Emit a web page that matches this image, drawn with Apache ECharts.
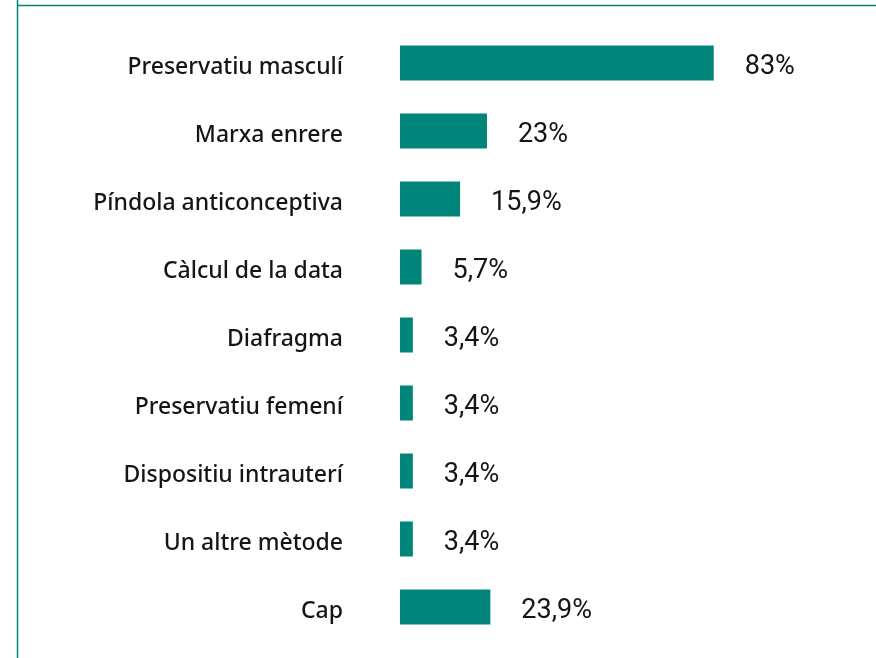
<!DOCTYPE html>
<html>
<head>
<meta charset="utf-8">
<script src="https://cdn.jsdelivr.net/npm/echarts@6/dist/echarts.min.js"></script>
<style>
html,body{margin:0;padding:0;background:#fff;}
#c{width:876px;height:658px;}
</style>
</head>
<body>
<div id="c"></div>
<script>
const categories = ["Preservatiu masculí","Marxa enrere","Píndola anticonceptiva","Càlcul de la data","Diafragma","Preservatiu femení","Dispositiu intrauterí","Un altre mètode","Cap"];
const values = [83, 23, 15.9, 5.7, 3.4, 3.4, 3.4, 3.4, 23.9];
const valueLabels = ["83%","23%","15,9%","5,7%","3,4%","3,4%","3,4%","3,4%","23,9%"];

const teal = '#00857a';
const chart = echarts.init(document.getElementById('c'), null, {renderer:'canvas'});
chart.setOption({
  animation:false,
  backgroundColor:'#fff',
  graphic:[
    {type:'line', shape:{x1:17.5,y1:0,x2:17.5,y2:658}, style:{stroke:teal,lineWidth:1.5}},
    {type:'line', shape:{x1:17,y1:5.5,x2:876,y2:5.5}, style:{stroke:teal,lineWidth:1.5}}
  ],
  grid:{left:400, top:29, width:378, height:612, containLabel:false},
  xAxis:{type:'value', min:0, max:100, show:false},
  yAxis:{type:'category', data:categories, inverse:true,
    axisLine:{show:false}, axisTick:{show:false},
    axisLabel:{margin:57,
      formatter:v=>'{a|' + v + '}',
      rich:{a:{fontSize:23, fontWeight:500, color:'#151515', fontFamily:'Noto Sans', padding:[9,0,0,0]}}}},
  series:[{
    type:'bar', data:values, barWidth:35,
    itemStyle:{color:teal},
    label:{show:true, position:'right', distance:31, fontSize:27, color:'#151515', fontFamily:'Roboto',
      offset:[0,4],
      formatter:p=>valueLabels[p.dataIndex]}
  }]
});
</script>
</body>
</html>
